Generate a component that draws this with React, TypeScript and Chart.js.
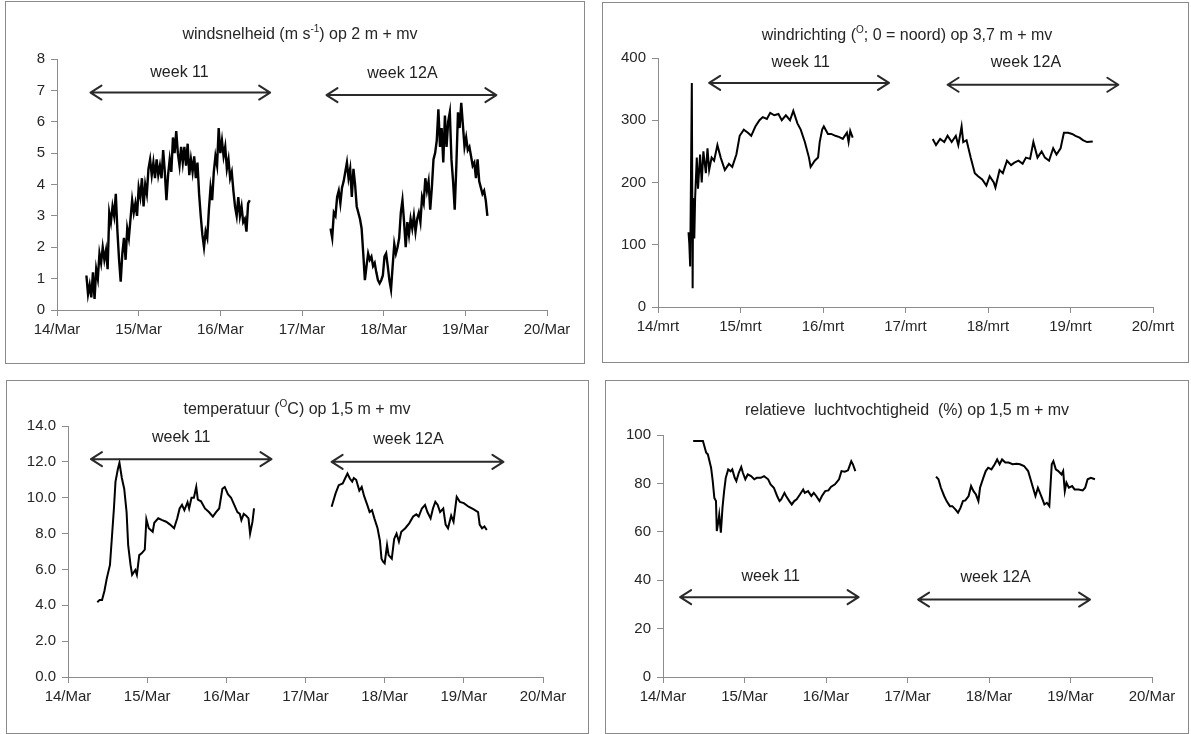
import React, { useEffect, useRef } from 'react';
import { Chart, registerables } from 'chart.js';

Chart.register(...registerables);

const FONT = '"Liberation Sans", Arial, Helvetica, sans-serif';

// ---------- axis tick labels ----------
const xDays = [14, 15, 16, 17, 18, 19, 20];
const xTicksMar = ['14/Mar', '15/Mar', '16/Mar', '17/Mar', '18/Mar', '19/Mar', '20/Mar'];
const xTicksMrt = ['14/mrt', '15/mrt', '16/mrt', '17/mrt', '18/mrt', '19/mrt', '20/mrt'];
const yTicksTemp = ['0.0', '2.0', '4.0', '6.0', '8.0', '10.0', '12.0', '14.0'];

// ---------- wind speed (m/s), sampled every 0.02 day ----------
const windSpeedStep = 0.02;
const windSpeedW11Start = 14.36;
const windSpeedW11 = [
  1.1, 0.5, 0.8, 0.4, 1.2, 0.35, 1.3, 1.0, 1.8, 1.5,
  2.0, 1.6, 1.9, 1.3, 3.1, 2.8, 3.3, 3.0, 3.7, 2.5,
  1.6, 0.9, 1.8, 2.3, 1.6, 2.6, 2.3, 2.9, 3.5, 3.1,
  3.4, 3.0, 3.9, 3.6, 4.2, 3.3, 4.0, 3.7, 4.5, 4.8,
  4.3, 4.7, 4.2, 4.8, 4.3, 4.6, 4.2, 5.1, 4.4, 3.5,
  4.3, 4.8, 4.4, 5.5, 5.0, 5.7, 5.0, 4.6, 5.2, 4.7,
  5.2, 4.6, 5.3, 4.3, 4.8, 4.4, 4.9, 4.2, 4.7, 3.7,
  3.0, 2.4, 2.0, 2.5, 2.3, 3.2, 3.9, 3.5, 4.4, 4.9,
  4.6, 5.8, 5.0, 5.4, 4.9, 5.2, 4.5, 4.8, 4.2, 4.4,
  3.8, 3.3, 3.0, 3.6, 3.0, 3.3, 2.8, 2.9, 2.5, 3.4,
  3.5,
];
const windSpeedW12Start = 17.35;
const windSpeedW12 = [
  2.6, 2.3, 3.1, 3.0, 3.6, 3.8, 3.4, 3.9, 4.1, 4.4,
  4.7, 4.2, 4.5, 3.6, 4.5, 4.0, 3.3, 3.1, 2.9, 2.6,
  1.8, 0.95, 1.4, 1.8, 1.6, 1.7, 1.4, 1.5, 1.2, 0.95,
  0.85, 0.95, 1.1, 1.7, 1.8, 1.4, 0.95, 0.65, 1.4, 2.1,
  1.8, 2.0, 2.3, 3.1, 3.5, 2.8, 2.0, 2.8, 2.4, 2.9,
  2.6, 3.0, 2.5, 2.9, 3.1, 2.8, 3.6, 3.4, 4.2, 3.8,
  4.1, 3.2, 3.9, 4.8, 5.0, 5.4, 6.4, 5.2, 5.8, 4.7,
  6.2, 5.2, 6.0, 6.3, 4.8, 4.1, 3.2, 4.6, 6.3, 5.8,
  6.6, 5.9, 5.2, 5.5, 5.1, 5.2, 4.9, 4.6, 4.7, 4.2,
  4.8, 4.1, 3.9, 3.7, 3.8, 3.5, 3.0,
];

// ---------- wind direction (degrees) ----------
const windDirW11Time = [
  14.37, 14.38, 14.39, 14.41, 14.42, 14.425, 14.44, 14.45, 14.47, 14.485,
  14.51, 14.53, 14.55, 14.58, 14.60, 14.62, 14.65, 14.68, 14.72, 14.76,
  14.81, 14.86, 14.90, 14.95, 14.99, 15.04, 15.09, 15.13, 15.18, 15.23,
  15.27, 15.32, 15.36, 15.41, 15.46, 15.50, 15.55, 15.60, 15.64, 15.69,
  15.73, 15.78, 15.83, 15.85, 15.90, 15.94, 15.96, 15.99, 16.01, 16.06,
  16.10, 16.15, 16.20, 16.24, 16.29, 16.31, 16.33, 16.36,
];
const windDirW11 = [
  120, 100, 65, 360, 30, 175, 110, 175, 240, 190,
  245, 200, 250, 215, 255, 220, 240, 235, 260, 240,
  220, 230, 225, 245, 275, 285, 280, 275, 290, 300,
  305, 302, 312, 308, 310, 300, 308, 300, 315, 295,
  285, 265, 240, 225, 235, 240, 265, 285, 290, 278,
  278, 275, 273, 270, 280, 265, 283, 272,
];
const windDirW12Time = [
  17.33, 17.37, 17.42, 17.47, 17.51, 17.56, 17.61, 17.64, 17.68, 17.70,
  17.74, 17.79, 17.84, 17.88, 17.93, 17.98, 18.02, 18.07, 18.09, 18.14,
  18.18, 18.23, 18.28, 18.32, 18.37, 18.42, 18.46, 18.51, 18.55, 18.60,
  18.65, 18.69, 18.74, 18.79, 18.83, 18.88, 18.92, 18.97, 19.02, 19.06,
  19.11, 19.15, 19.20, 19.27,
];
const windDirW12 = [
  270, 260, 270, 265, 275, 265, 275, 260, 290, 265,
  268, 240, 215, 210, 205, 195, 210, 200, 192, 220,
  215, 235, 228, 232, 235, 230, 240, 238, 265, 240,
  250, 240, 235, 255, 245, 255, 280, 280, 278, 275,
  272, 268, 265, 266,
];

// ---------- temperature (°C) ----------
const tempW11Time = [
  14.37, 14.40, 14.43, 14.46, 14.49, 14.53, 14.55, 14.58, 14.60, 14.63,
  14.65, 14.68, 14.70, 14.71, 14.74, 14.76, 14.79, 14.81, 14.85, 14.87,
  14.90, 14.93, 14.97, 14.99, 15.02, 15.07, 15.09, 15.14, 15.19, 15.24,
  15.29, 15.34, 15.38, 15.41, 15.44, 15.47, 15.51, 15.53, 15.56, 15.59,
  15.62, 15.64, 15.68, 15.73, 15.78, 15.83, 15.87, 15.91, 15.95, 15.98,
  16.02, 16.06, 16.10, 16.14, 16.17, 16.19, 16.22, 16.25, 16.28, 16.30,
  16.33, 16.35,
];
const tempW11 = [
  4.17, 4.3, 4.3, 4.8, 5.5, 6.25, 7.5, 9.4, 10.9, 11.6,
  11.95, 11.1, 10.7, 10.5, 9.2, 7.36, 6.25, 5.7, 5.97, 5.7,
  6.8, 6.9, 7.1, 8.8, 8.3, 8.1, 8.6, 8.85, 8.75, 8.66,
  8.5, 8.3, 8.85, 9.4, 9.6, 9.3, 9.75, 9.4, 10.0, 10.0,
  10.6, 9.9, 9.8, 9.4, 9.2, 8.95, 9.2, 9.4, 10.5, 10.6,
  10.2, 10.0, 9.6, 9.2, 9.1, 8.75, 9.1, 9.0, 8.85, 8.0,
  8.66, 9.4,
];
const tempW12Time = [
  17.33, 17.38, 17.42, 17.47, 17.50, 17.53, 17.56, 17.59, 17.61, 17.64,
  17.68, 17.71, 17.74, 17.78, 17.81, 17.84, 17.87, 17.91, 17.94, 17.96,
  17.98, 18.00, 18.03, 18.05, 18.09, 18.12, 18.15, 18.18, 18.21, 18.26,
  18.31, 18.36, 18.40, 18.43, 18.47, 18.51, 18.54, 18.58, 18.61, 18.64,
  18.67, 18.70, 18.74, 18.77, 18.80, 18.84, 18.87, 18.91, 18.95, 19.00,
  19.06, 19.12, 19.18, 19.20, 19.23, 19.26, 19.29,
];
const tempW12 = [
  9.5, 10.24, 10.7, 10.8, 11.07, 11.35, 11.07, 10.9, 11.1, 11.0,
  10.4, 10.6, 10.1, 9.6, 9.2, 9.3, 8.85, 8.3, 7.6, 6.6,
  6.43, 6.34, 7.36, 6.8, 6.6, 7.7, 8.0, 7.55, 8.1, 8.3,
  8.57, 8.95, 9.07, 8.95, 9.4, 9.6, 9.2, 8.85, 9.4, 9.77,
  9.6, 9.2, 9.4, 8.5, 8.3, 9.0, 8.66, 10.05, 9.77, 9.7,
  9.5, 9.36, 9.2, 8.5, 8.3, 8.4, 8.2,
];

// ---------- relative humidity (%) ----------
const rhW11Time = [
  14.37, 14.49, 14.53, 14.55, 14.59, 14.61, 14.63, 14.65, 14.66, 14.68,
  14.69, 14.71, 14.73, 14.75, 14.77, 14.80, 14.83, 14.85, 14.88, 14.90,
  14.93, 14.96, 14.98, 15.01, 15.04, 15.08, 15.12, 15.15, 15.20, 15.24,
  15.29, 15.32, 15.36, 15.40, 15.43, 15.45, 15.49, 15.51, 15.55, 15.58,
  15.61, 15.64, 15.68, 15.72, 15.74, 15.78, 15.82, 15.85, 15.88, 15.92,
  15.95, 15.99, 16.03, 16.06, 16.11, 16.16, 16.19, 16.23, 16.27, 16.31,
  16.33, 16.36,
];
const rhW11 = [
  97.5, 97.5, 92.7, 92, 86.5, 81, 74, 72.7, 60.3, 64.4,
  67, 59.6, 70, 76.8, 82.3, 85.8, 85, 85.8, 82.3, 81,
  84.4, 86.8, 84.4, 81.7, 83.7, 83, 81.7, 82.3, 82.3, 83,
  81.7, 79.6, 78.2, 74.8, 72.7, 73.4, 76.1, 74.8, 72.7, 71.3,
  72.7, 73.4, 75.4, 77.5, 76.1, 76.8, 74.8, 76.1, 74.8, 72.7,
  74.8, 76.8, 77.1, 78.5, 79.6, 81.7, 85.1, 84.8, 85.4, 89.2,
  87.9, 85.1,
];
const rhW12Time = [
  17.35, 17.38, 17.41, 17.45, 17.48, 17.52, 17.55, 17.59, 17.62, 17.65,
  17.68, 17.71, 17.75, 17.78, 17.81, 17.84, 17.87, 17.89, 17.93, 17.96,
  17.99, 18.03, 18.07, 18.10, 18.13, 18.16, 18.20, 18.24, 18.29, 18.34,
  18.38, 18.43, 18.48, 18.51, 18.54, 18.57, 18.60, 18.64, 18.68, 18.71,
  18.74, 18.77, 18.79, 18.82, 18.85, 18.89, 18.91, 18.93, 18.95, 18.98,
  19.02, 19.05, 19.10, 19.15, 19.18, 19.21, 19.25, 19.30,
];
const rhW12 = [
  82.8, 81.7, 78.2, 74.8, 72.7, 70.6, 70.6, 69.2, 67.9, 69.9,
  72.7, 73, 74.8, 78.9, 76.8, 75.4, 72.7, 78.2, 82.3, 85.1,
  86.5, 85.8, 87.9, 89.9, 87.9, 89.9, 88.6, 88.6, 87.9, 88.1,
  87.9, 87.2, 85.1, 81.7, 78.2, 74.8, 78.2, 74.8, 71.3, 72,
  70.6, 87.9, 89.2, 85.8, 85.1, 83.7, 85.1, 76.8, 80.3, 78.2,
  78.9, 77.5, 77.5, 77.1, 78.2, 81.7, 82.3, 81.7,
];

// ---------- week annotations (data units: day, value) ----------
const windSpeedWeeks = [
  { label: 'week 11', from: 14.41, to: 16.61, y: 6.93, lx: 15.5, ly: 7.56 },
  { label: 'week 12A', from: 17.3, to: 19.38, y: 6.85, lx: 18.23, ly: 7.54 },
];
const windDirWeeks = [
  { label: 'week 11', from: 14.62, to: 16.8, y: 360, lx: 15.73, ly: 393 },
  { label: 'week 12A', from: 17.51, to: 19.58, y: 357, lx: 18.46, ly: 392 },
];
const tempWeeks = [
  { label: 'week 11', from: 14.29, to: 16.57, y: 12.15, lx: 15.43, ly: 13.33 },
  { label: 'week 12A', from: 17.33, to: 19.5, y: 12.0, lx: 18.3, ly: 13.26 },
];
const rhWeeks = [
  { label: 'week 11', from: 14.21, to: 16.4, y: 33.0, lx: 15.32, ly: 41.5 },
  { label: 'week 12A', from: 17.13, to: 19.24, y: 32.0, lx: 18.08, ly: 41 },
];

type Pt = { x: number; y: number };
const sampled = (start: number, step: number, vals: number[]): Pt[] =>
  vals.map((v, i) => ({ x: +(start + i * step).toFixed(4), y: v }));
const paired = (t: number[], v: number[]): Pt[] => t.map((x, i) => ({ x, y: v[i] }));

const titlePlugin = {
  id: 'supTitle',
  afterDraw(chart: any, _a: any, opts: any) {
    const parts = opts.parts as { t: string; sup?: boolean }[];
    if (!parts) return;
    const ctx = chart.ctx as CanvasRenderingContext2D;
    ctx.save();
    const size = opts.size;
    const base = `${size}px ${FONT}`;
    const sup = `${Math.round(size * 0.62)}px ${FONT}`;
    let total = 0;
    for (const p of parts) {
      ctx.font = p.sup ? sup : base;
      total += ctx.measureText(p.t).width;
    }
    let x = opts.x - total / 2;
    const baseline = opts.y + size * 0.36;
    ctx.fillStyle = opts.color;
    ctx.textAlign = 'left';
    ctx.textBaseline = 'alphabetic';
    for (const p of parts) {
      ctx.font = p.sup ? sup : base;
      ctx.fillText(p.t, x, p.sup ? baseline - size * 0.42 : baseline);
      x += ctx.measureText(p.t).width;
    }
    ctx.restore();
  },
};

const arrowPlugin = {
  id: 'weekArrows',
  afterDatasetsDraw(chart: any, _a: any, opts: any) {
    const items = opts.items as typeof windSpeedWeeks;
    if (!items) return;
    const ctx = chart.ctx as CanvasRenderingContext2D;
    const xs = chart.scales.x;
    const ys = chart.scales.y;
    ctx.save();
    ctx.strokeStyle = '#2a2a2a';
    ctx.lineWidth = 2;
    ctx.lineCap = 'round';
    ctx.lineJoin = 'round';
    for (const a of items) {
      const x1 = xs.getPixelForValue(a.from);
      const x2 = xs.getPixelForValue(a.to);
      const py = ys.getPixelForValue(a.y);
      ctx.beginPath();
      ctx.moveTo(x1, py);
      ctx.lineTo(x2, py);
      ctx.moveTo(x1 + 11, py - 7);
      ctx.lineTo(x1, py);
      ctx.lineTo(x1 + 11, py + 7);
      ctx.moveTo(x2 - 11, py - 7);
      ctx.lineTo(x2, py);
      ctx.lineTo(x2 - 11, py + 7);
      ctx.stroke();
      ctx.fillStyle = '#222';
      ctx.font = `16px ${FONT}`;
      ctx.textAlign = 'center';
      ctx.textBaseline = 'middle';
      ctx.fillText(a.label, xs.getPixelForValue(a.lx), ys.getPixelForValue(a.ly));
    }
    ctx.restore();
  },
};

type PanelCfg = {
  rect: [number, number, number, number];
  area: [number, number, number, number];
  titlePos: [number, number];
  title: { t: string; sup?: boolean }[];
  series: Pt[][];
  lineWidth: number;
  xLabels: string[];
  yMax: number;
  yStep: number;
  yFormat: (v: number) => string;
  weeks: typeof windSpeedWeeks;
};

const panels: PanelCfg[] = [
  {
    rect: [5, 1, 584, 363],
    area: [57, 59, 547, 310],
    titlePos: [300, 33],
    title: [{ t: 'windsnelheid (m s' }, { t: '-1', sup: true }, { t: ') op 2 m + mv' }],
    series: [
      sampled(windSpeedW11Start, windSpeedStep, windSpeedW11),
      sampled(windSpeedW12Start, windSpeedStep, windSpeedW12),
    ],
    lineWidth: 2.4,
    xLabels: xTicksMar,
    yMax: 8,
    yStep: 1,
    yFormat: (v) => String(v),
    weeks: windSpeedWeeks,
  },
  {
    rect: [602, 2, 1188, 362],
    area: [658, 58, 1153, 307],
    titlePos: [907, 34],
    title: [{ t: 'windrichting (' }, { t: 'O', sup: true }, { t: '; 0 = noord) op 3,7 m + mv' }],
    series: [paired(windDirW11Time, windDirW11), paired(windDirW12Time, windDirW12)],
    lineWidth: 2,
    xLabels: xTicksMrt,
    yMax: 400,
    yStep: 100,
    yFormat: (v) => String(v),
    weeks: windDirWeeks,
  },
  {
    rect: [6, 380, 588, 733],
    area: [68, 426, 543, 677],
    titlePos: [297, 408],
    title: [{ t: 'temperatuur (' }, { t: 'O', sup: true }, { t: 'C) op 1,5 m + mv' }],
    series: [paired(tempW11Time, tempW11), paired(tempW12Time, tempW12)],
    lineWidth: 2,
    xLabels: xTicksMar,
    yMax: 14,
    yStep: 2,
    yFormat: (v) => yTicksTemp[Math.round(v / 2)] ?? '',
    weeks: tempWeeks,
  },
  {
    rect: [605, 380, 1188, 733],
    area: [663, 435, 1152, 677],
    titlePos: [907, 409],
    title: [{ t: 'relatieve  luchtvochtigheid  (%) op 1,5 m + mv' }],
    series: [paired(rhW11Time, rhW11), paired(rhW12Time, rhW12)],
    lineWidth: 2,
    xLabels: xTicksMar,
    yMax: 100,
    yStep: 20,
    yFormat: (v) => String(v),
    weeks: rhWeeks,
  },
];

const AXIS = '#8c8c8c';
const TEXT = '#262626';
const XH = 30;

function Panel({ cfg }: { cfg: PanelCfg }) {
  const ref = useRef<HTMLCanvasElement>(null);
  const [L, T, R, B] = cfg.rect;
  const cw = R - L - 1;
  const ch = B - T - 1;
  const ox = L + 1;
  const oy = T + 1;

  useEffect(() => {
    if (!ref.current) return;
    const [aL, aT, aR, aB] = cfg.area;
    const yW = aL - ox;
    const padTop = aT - oy;
    const padRight = cw - (aR - ox);
    const padBottom = ch - (aB - oy) - XH;
    const chart = new Chart(ref.current, {
      type: 'line',
      data: {
        datasets: cfg.series.map((s) => ({
          data: s,
          borderColor: '#000',
          backgroundColor: '#000',
          borderWidth: cfg.lineWidth,
          pointRadius: 0,
          fill: false,
          tension: 0,
        })),
      },
      options: {
        animation: false,
        responsive: false,
        maintainAspectRatio: false,
        layout: { padding: { left: 0, top: padTop, right: padRight, bottom: padBottom } },
        plugins: {
          legend: { display: false },
          tooltip: { enabled: false },
          title: { display: false },
          supTitle: {
            parts: cfg.title,
            x: cfg.titlePos[0] - ox,
            y: cfg.titlePos[1] - oy,
            size: 16,
            color: TEXT,
          },
          weekArrows: { items: cfg.weeks },
        } as any,
        scales: {
          x: {
            type: 'linear',
            min: 14,
            max: 20,
            afterFit: (s: any) => {
              s.height = XH;
            },
            ticks: {
              stepSize: 1,
              autoSkip: false,
              maxRotation: 0,
              padding: 5,
              color: TEXT,
              font: { family: FONT, size: 15 },
              callback: (v: any) => cfg.xLabels[xDays.indexOf(Number(v))] ?? '',
            },
            grid: { drawOnChartArea: false, drawTicks: true, tickLength: 6, color: AXIS },
            border: { display: true, color: AXIS, width: 1 },
          },
          y: {
            type: 'linear',
            min: 0,
            max: cfg.yMax,
            afterFit: (s: any) => {
              s.width = yW;
            },
            ticks: {
              stepSize: cfg.yStep,
              autoSkip: false,
              padding: 6,
              color: TEXT,
              font: { family: FONT, size: 15 },
              callback: (v: any) => cfg.yFormat(Number(v)),
            },
            grid: { drawOnChartArea: false, drawTicks: true, tickLength: 6, color: AXIS },
            border: { display: true, color: AXIS, width: 1 },
          },
        },
      } as any,
      plugins: [titlePlugin, arrowPlugin] as any,
    });
    return () => chart.destroy();
  }, []);

  return (
    <div
      style={{
        position: 'absolute',
        left: L,
        top: T,
        width: R - L + 1,
        height: B - T + 1,
        border: '1px solid #8a8a8a',
        boxSizing: 'border-box',
        background: '#fff',
      }}
    >
      <canvas ref={ref} width={cw} height={ch} style={{ display: 'block', width: cw, height: ch }} />
    </div>
  );
}

export default function App() {
  return (
    <div style={{ position: 'absolute', left: 0, top: 0, width: 1191, height: 734, background: '#fff', overflow: 'hidden' }}>
      {panels.map((p, i) => (
        <Panel key={i} cfg={p} />
      ))}
    </div>
  );
}
